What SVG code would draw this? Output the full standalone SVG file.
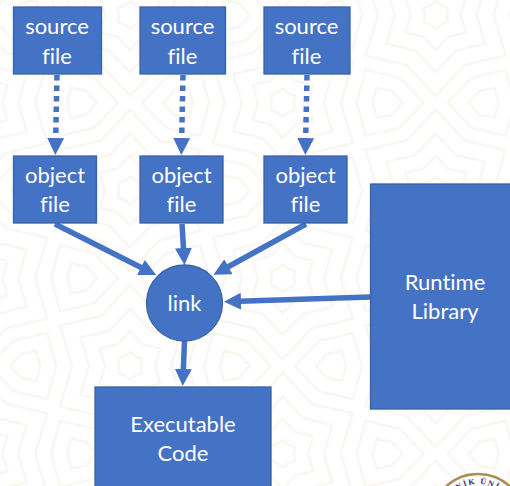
<svg xmlns="http://www.w3.org/2000/svg" width="510" height="486" viewBox="0 0 510 486">
<style>
.n{fill:#4472c4;stroke:#3a62a8;stroke-width:1.3}
.t{fill:#fff;font-family:"Lato","Open Sans",sans-serif;font-size:22px;text-anchor:middle;font-variant-ligatures:none}
.c{fill:none;stroke:#4472c4;stroke-width:5.500;marker-end:url(#h)}
.d{stroke-dasharray:5.500 5}
.b{fill:none;stroke:#f8f6ef;stroke-width:2.400}
</style>
<defs>
<marker id="h" markerUnits="userSpaceOnUse" markerWidth="17" markerHeight="17" refX="9" refY="8.500" orient="auto"><path d="M0,0L17,8.500L0,17Z" fill="#4472c4"/></marker>
<g id="star" class="b">
<path d="M0,-81L29,-50L70,-40.500L58,0L70,40.500L29,50L0,81L-29,50L-70,40.500L-58,0L-70,-40.500L-29,-50Z"/>
<path d="M0,-57L20.500,-35.500L49.400,-28.500L41,0L49.400,28.500L20.500,35.500L0,57L-20.500,35.500L-49.400,28.500L-41,0L-49.400,-28.500L-20.500,-35.500Z"/>
<path d="M0,-35L12.500,-21.700L30.300,-17.500L25,0L30.300,17.500L12.500,21.700L0,35L-12.500,21.700L-30.300,17.500L-25,0L-30.300,-17.500L-12.500,-21.700Z"/>
<path d="M0,-14L5.500,-9.500L12.100,-7L11,0L12.100,7L5.500,9.500L0,14L-5.500,9.500L-12.100,7L-11,0L-12.100,-7L-5.500,-9.500Z"/>
</g>
<g id="pair" class="b">
<path d="M-12,0L-36,-25L-70,-33L-79,0L-70,33L-36,25Z"/>
<path d="M-33,0L-44,-12L-59,-15L-63,0L-59,15L-44,12Z"/>
<path d="M12,0L36,-25L70,-33L79,0L70,33L36,25Z"/>
<path d="M33,0L44,-12L59,-15L63,0L59,15L44,12Z"/>
</g>
<pattern id="bg" patternUnits="userSpaceOnUse" width="305.600" height="175.500" patternTransform="translate(130,15)">
<use href="#star"/><use href="#star" x="305.600"/><use href="#star" y="175.500"/><use href="#star" x="305.600" y="175.500"/>
<use href="#star" x="152.800" y="87.750"/>
<use href="#pair" y="87.750"/><use href="#pair" x="305.600" y="87.750"/>
<use href="#pair" x="152.800"/><use href="#pair" x="152.800" y="175.500"/>
</pattern>
<path id="textarc" d="M441,521A37,37 0 0 1 515,521"/>
</defs>
<rect width="510" height="486" fill="#fff"/>
<rect id="background" width="510" height="486" fill="url(#bg)"/>
<g id="seal">
<circle cx="478" cy="521" r="47" fill="#fff" stroke="#a98f55" stroke-width="2.500"/>
<text font-family="Liberation Serif,serif" font-size="8" font-weight="bold" fill="#2b2a63" letter-spacing="1.600"><textPath href="#textarc" startOffset="50%" text-anchor="middle">NİK ÜNİ</textPath></text>
</g>
<g id="connectors">
<path class="c d" d="M57,75L55.500,147"/>
<path class="c d" d="M183,75L181.500,147"/>
<path class="c d" d="M307,75L305.500,147"/>
<path class="c" d="M55,224L149,271.500"/>
<path class="c" d="M182,224L184,257"/>
<path class="c" d="M306,224L220.500,271"/>
<path class="c" d="M370,297L232,301.500"/>
<path class="c" d="M184.500,341L183,378"/>
</g>
<g id="source1"><rect class="n" x="13.500" y="7" width="88" height="67"/><text class="t" x="57" y="33.500">source</text><text class="t" x="57" y="63.500">file</text></g>
<g id="source2"><rect class="n" x="140" y="7" width="85.500" height="67"/><text class="t" x="182.500" y="33.500">source</text><text class="t" x="182.500" y="63.500">file</text></g>
<g id="source3"><rect class="n" x="264" y="7" width="86" height="67"/><text class="t" x="306.500" y="33.500">source</text><text class="t" x="306.500" y="63.500">file</text></g>
<g id="object1"><rect class="n" x="13.500" y="156" width="83" height="67"/><text class="t" x="55" y="183">object</text><text class="t" x="55" y="212">file</text></g>
<g id="object2"><rect class="n" x="140" y="156" width="83" height="67"/><text class="t" x="181.500" y="183">object</text><text class="t" x="181.500" y="212">file</text></g>
<g id="object3"><rect class="n" x="264" y="156" width="83" height="67"/><text class="t" x="305.500" y="183">object</text><text class="t" x="305.500" y="212">file</text></g>
<g id="link"><circle class="n" cx="184.500" cy="303" r="38"/><text class="t" x="184.500" y="311">link</text></g>
<g id="runtime"><rect class="n" x="370.500" y="184" width="145" height="225"/><text class="t" x="445" y="290">Runtime</text><text class="t" x="445" y="319">Library</text></g>
<g id="executable"><rect class="n" x="95" y="387" width="176" height="105"/><text class="t" x="183" y="432">Executable</text><text class="t" x="183" y="461">Code</text></g>
</svg>
